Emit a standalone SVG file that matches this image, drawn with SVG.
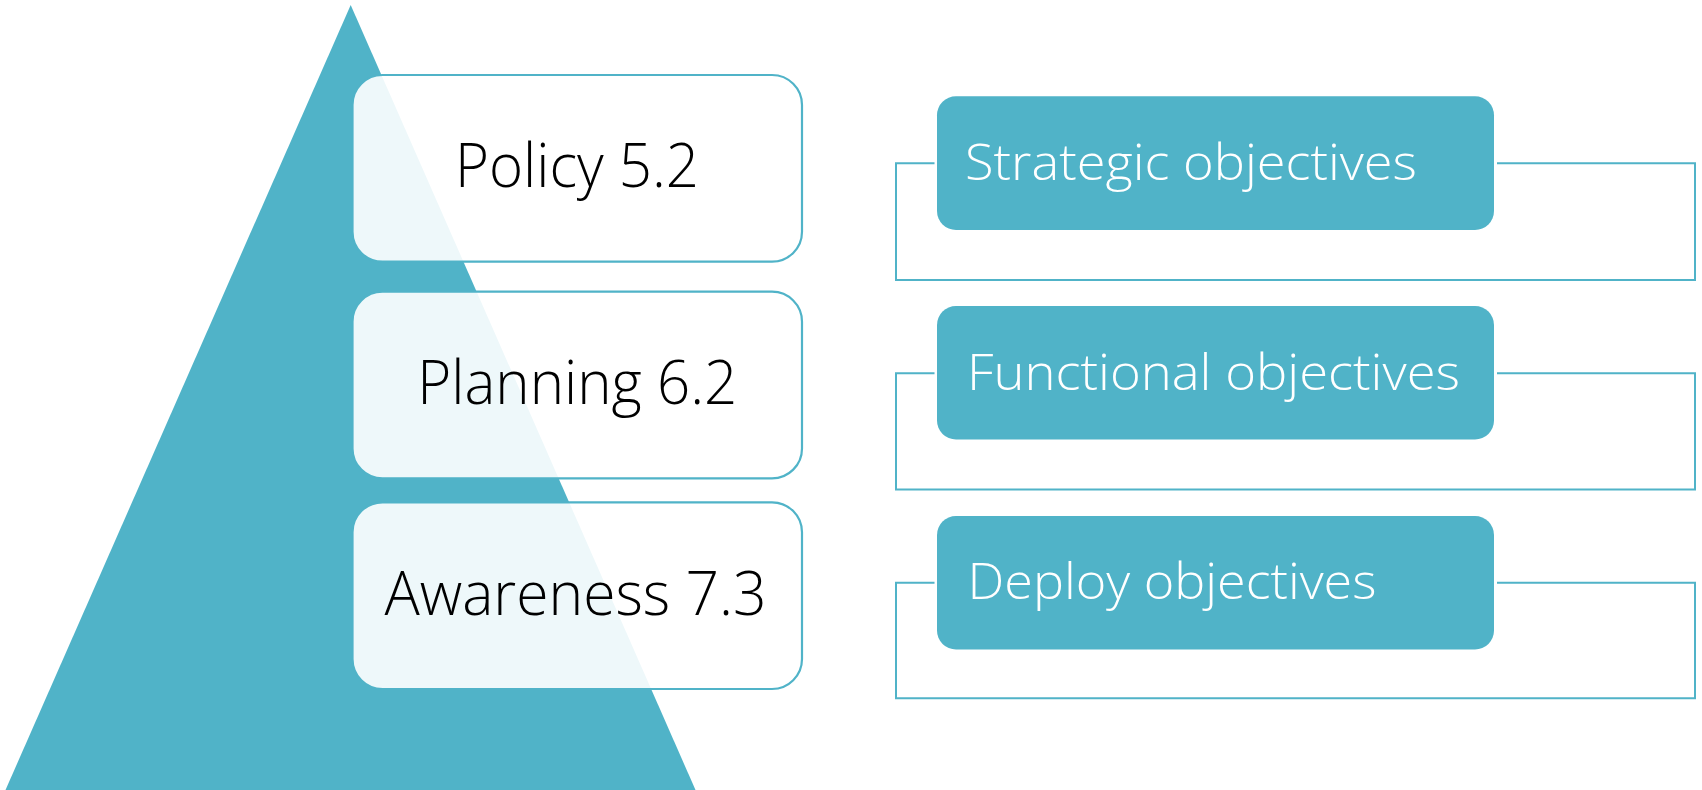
<svg xmlns="http://www.w3.org/2000/svg" width="1702" height="790" viewBox="0 0 1702 790">
<style>
  .tri { fill: #50B3C8; }
  .lbox { fill: #FFFFFF; fill-opacity: 0.9; stroke: #50B3C8; stroke-width: 2.2; }
  .rbox { fill: #50B3C8; }
  .ltxt { font-family: "Open Sans", "Liberation Sans", sans-serif; font-weight: 300; font-size: 60px; fill: #000000; text-anchor: middle; }
  .rtxt { font-family: "Open Sans", "Liberation Sans", sans-serif; font-weight: 300; font-size: 49px; fill: #FFFFFF; }
  .conn { fill: none; stroke: #50B3C8; stroke-width: 2; }
</style>
<rect x="0" y="0" width="1702" height="790" fill="#FFFFFF"/>
<polygon class="tri" points="350.7,5 5.5,790 695.5,790"/>
<g id="policy">
  <rect class="lbox" x="352.5" y="75" width="449.5" height="186.7" rx="30" ry="30"/>
  <text class="ltxt" x="577" y="187.3" textLength="244" lengthAdjust="spacingAndGlyphs">Policy 5.2</text>
</g>
<g id="planning">
  <rect class="lbox" x="352.5" y="291.7" width="449.5" height="186.7" rx="30" ry="30"/>
  <text class="ltxt" x="577.3" y="404" textLength="320" lengthAdjust="spacingAndGlyphs">Planning 6.2</text>
</g>
<g id="awareness">
  <rect class="lbox" x="352.5" y="502.3" width="449.5" height="186.7" rx="30" ry="30"/>
  <text class="ltxt" x="575.5" y="615" textLength="382" lengthAdjust="spacingAndGlyphs">Awareness 7.3</text>
</g>
<g id="connectors">
  <path class="conn" d="M934.5,163.3 H896 V280 H1695 V163.3 H1497"/>
  <path class="conn" d="M934.5,373.3 H896 V489.5 H1695 V373.3 H1497"/>
  <path class="conn" d="M934.5,582.7 H896 V698.3 H1695 V582.7 H1497"/>
</g>
<g id="strategic">
  <rect class="rbox" x="937" y="96.3" width="557" height="133.7" rx="19" ry="19"/>
  <text class="rtxt" x="965" y="180" textLength="452" lengthAdjust="spacingAndGlyphs">Strategic objectives</text>
</g>
<g id="functional">
  <rect class="rbox" x="937" y="306" width="557" height="133.5" rx="19" ry="19"/>
  <text class="rtxt" x="967" y="390" textLength="493" lengthAdjust="spacingAndGlyphs">Functional objectives</text>
</g>
<g id="deploy">
  <rect class="rbox" x="937" y="516" width="557" height="133.5" rx="19" ry="19"/>
  <text class="rtxt" x="967.5" y="599.3" textLength="409" lengthAdjust="spacingAndGlyphs">Deploy objectives</text>
</g>
</svg>
